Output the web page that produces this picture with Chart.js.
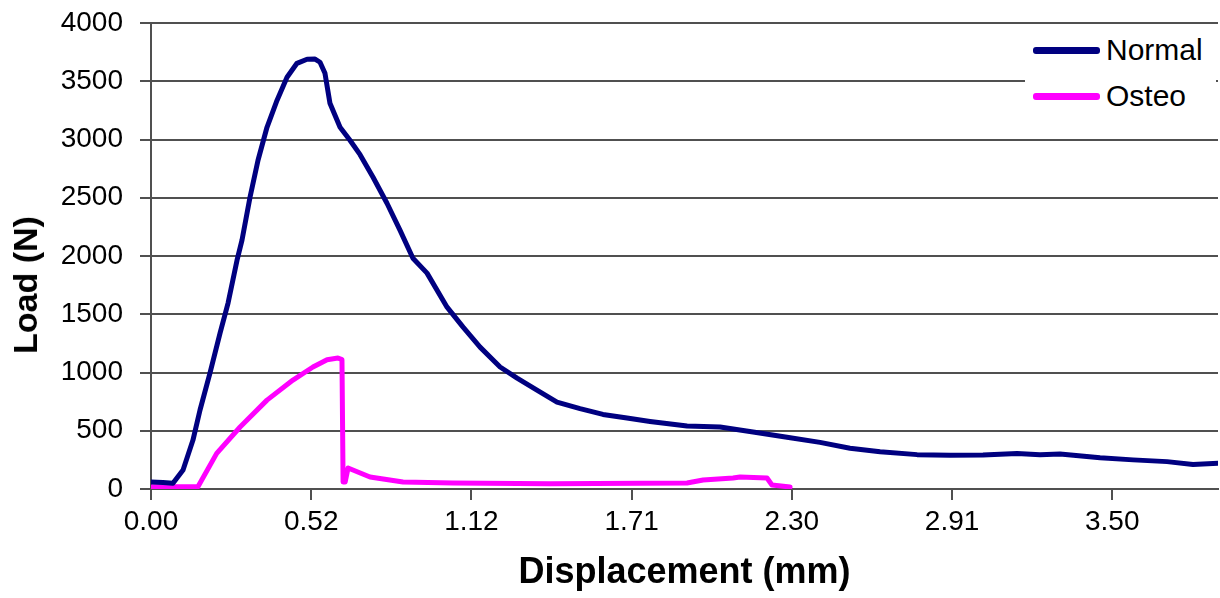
<!DOCTYPE html>
<html>
<head>
<meta charset="utf-8">
<script src="https://cdn.jsdelivr.net/npm/chart.js@4.4.1/dist/chart.umd.min.js"></script>
<style>
  html, body { margin: 0; padding: 0; background: #fff; }
  #wrap { position: relative; width: 1220px; height: 598px; }
  #legend {
    position: absolute; left: 1025px; top: 30px; width: 191px; height: 93px;
    background: #fff; font-family: "Liberation Sans", Arial, sans-serif;
    font-size: 30px; color: #000;
  }
  .row { position: absolute; left: 8px; height: 40px; display: flex; align-items: center; }
  .swatch { width: 67px; height: 7px; border-radius: 3px; margin-right: 6px; }
  #ytitle {
    position: absolute; left: 25px; top: 285px;
    transform: translate(-50%, -50%) rotate(-90deg);
    font-family: "Liberation Sans", Arial, sans-serif; font-weight: bold;
    font-size: 34px; line-height: 1; white-space: nowrap; color: #000;
  }
</style>
</head>
<body>
<div id="wrap">
  <canvas id="chart" width="1220" height="598"></canvas>
  <div id="ytitle">Load (N)</div>
  <div id="legend"></div>
</div>
<script>
// x positions are along the category axis, in units of one labelled interval
const xTickLabels = ["0.00", "0.52", "1.12", "1.71", "2.30", "2.91", "3.50"];

const normalPos = [0, 0.075, 0.137, 0.20, 0.262, 0.306, 0.368, 0.431, 0.481, 0.537,
  0.568, 0.618, 0.668, 0.724, 0.787, 0.849, 0.911, 0.974, 1.024, 1.055,
  1.086, 1.117, 1.180, 1.242, 1.305, 1.386, 1.473, 1.554, 1.635, 1.723,
  1.848, 1.948, 2.054, 2.179, 2.285, 2.409, 2.534, 2.678, 2.821, 2.971,
  3.115, 3.346, 3.552, 3.758, 3.970, 4.176, 4.363, 4.551, 4.782, 4.988,
  5.193, 5.406, 5.549, 5.674, 5.924, 6.130, 6.342, 6.504, 6.660];
const normalLoad = [60, 55, 50, 163, 420, 678, 995, 1338, 1596, 1964,
  2136, 2505, 2822, 3105, 3337, 3534, 3654, 3689, 3690, 3663,
  3568, 3311, 3105, 2994, 2870, 2676, 2453, 2222, 1981, 1853,
  1561, 1390, 1218, 1047, 952, 849, 746, 690, 640, 609,
  580, 540, 532, 489, 445, 400, 350, 320, 295, 290,
  292, 305, 295, 300, 268, 250, 235, 210, 220];

const osteoPos = [0, 0.293, 0.410, 0.556, 0.724, 0.886, 1.011, 1.099, 1.167, 1.192,
  1.199, 1.212, 1.230, 1.367, 1.573, 1.885, 2.491, 3.346, 3.446, 3.633,
  3.677, 3.845, 3.876, 3.989];
const osteoLoad = [20, 20, 306, 532, 763, 935, 1047, 1110, 1124, 1110,
  60, 60, 180, 103, 60, 51, 45, 51, 77, 94,
  103, 94, 34, 17];

const FONT = "'Liberation Sans', Arial, sans-serif";
const GRID = "#505050";

function points(xs, ys) {
  return xs.map((x, i) => ({ x: x, y: ys[i] }));
}

const chart = new Chart(document.getElementById("chart"), {
  type: "line",
  data: {
    datasets: [
      {
        label: "Normal",
        data: points(normalPos, normalLoad),
        borderColor: "#000080",
        borderWidth: 5,
        pointRadius: 0,
        tension: 0,
        borderJoinStyle: "round",
        borderCapStyle: "round"
      },
      {
        label: "Osteo",
        data: points(osteoPos, osteoLoad),
        borderColor: "#ff00ff",
        borderWidth: 5,
        pointRadius: 0,
        tension: 0,
        borderJoinStyle: "round",
        borderCapStyle: "round"
      }
    ]
  },
  options: {
    responsive: false,
    animation: false,
    layout: { padding: { top: 23, right: 2, left: 0, bottom: 0 } },
    plugins: {
      legend: { display: false },
      tooltip: { enabled: false }
    },
    scales: {
      x: {
        type: "linear",
        min: 0,
        max: 6.66,
        afterFit: s => { s.height = 109; },
        ticks: {
          stepSize: 1,
          includeBounds: false,
          autoSkip: false,
          maxRotation: 0,
          padding: 5,
          color: "#000",
          font: { family: FONT, size: 28 },
          callback: v => xTickLabels[v] ?? ""
        },
        grid: { drawOnChartArea: false, drawTicks: true, tickLength: 11, color: GRID, lineWidth: 2 },
        border: { display: true, color: GRID, width: 2 },
        title: {
          display: true,
          text: "Displacement (mm)",
          color: "#000",
          font: { family: FONT, size: 36, weight: "bold" },
          padding: { top: 0, bottom: 3 }
        }
      },
      y: {
        min: 0,
        max: 4000,
        afterFit: s => {
          s.width = 151;
          s.paddingTop = 0;
          s.paddingBottom = 0;
        },
        ticks: {
          stepSize: 500,
          padding: 17,
          color: "#000",
          font: { family: FONT, size: 28 },
          callback: v => String(v)
        },
        grid: { color: GRID, lineWidth: 2, tickLength: 11 },
        border: { display: true, color: GRID, width: 2 }
        // axis title is the rotated #ytitle div (sits lower than chart-area centre)
      }
    }
  }
});

// legend box drawn inside the plot, top right
const legendEl = document.getElementById("legend");
chart.data.datasets.forEach((ds, i) => {
  const row = document.createElement("div");
  row.className = "row";
  row.style.top = (i * 46) + "px";
  const sw = document.createElement("span");
  sw.className = "swatch";
  sw.style.background = ds.borderColor;
  const txt = document.createElement("span");
  txt.textContent = ds.label;
  row.appendChild(sw);
  row.appendChild(txt);
  legendEl.appendChild(row);
});
</script>
</body>
</html>
